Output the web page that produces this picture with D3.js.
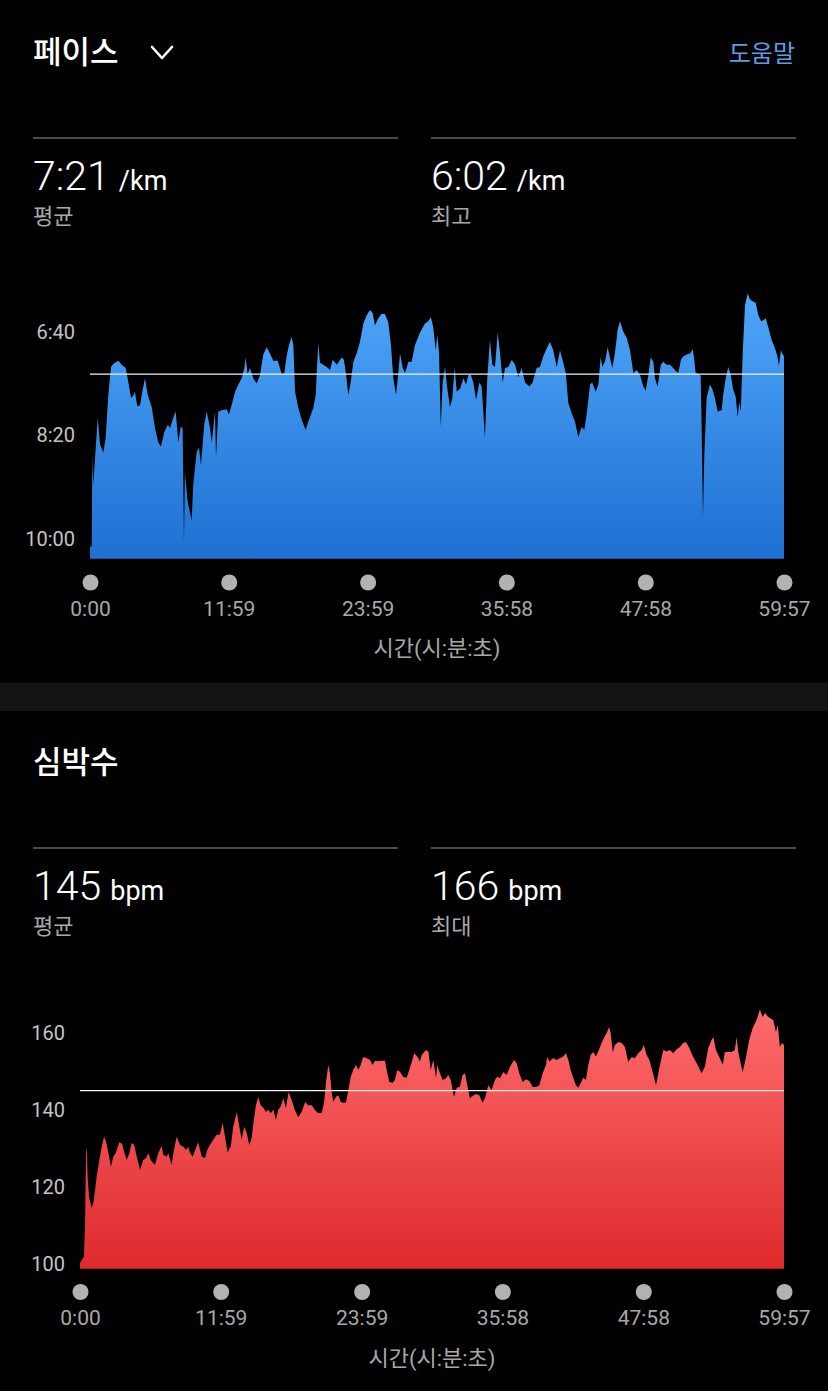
<!DOCTYPE html>
<html>
<head>
<meta charset="utf-8">
<script src="https://cdn.jsdelivr.net/npm/d3@7"></script>
<style>
  html, body { margin: 0; padding: 0; background: #000; }
  svg { display: block; font-family: Roboto, "Noto Sans CJK KR", sans-serif; }
</style>
</head>
<body>
<svg id="chart" width="828" height="1391"></svg>
<script>
// 시간 축 (초)
var timeTicks = [0, 719, 1439, 2158, 2878, 3597];
var timeLabels = ["0:00", "11:59", "23:59", "35:58", "47:58", "59:57"];

// 페이스 (초/km)
var paceTime = [0,9,12,17,40,52,69,81,95,109,121,147,164,185,195,213,224,233,245,259,
  271,285,299,320,337,354,368,385,403,415,432,444,458,470,480,487,492,506,527,535,
  553,565,575,592,605,622,631,648,653,665,683,709,720,734,752,769,786,800,807,817,
  829,846,864,881,898,916,933,950,973,994,1007,1019,1031,1045,1054,1063,1080,1097,1118,1131,
  1157,1170,1183,1192,1209,1227,1244,1258,1279,1305,1316,1327,1339,1351,1365,1382,1399,1417,1434,1451,
  1465,1477,1494,1512,1529,1546,1560,1572,1586,1598,1607,1621,1633,1650,1667,1684,1710,1736,1753,1767,
  1779,1792,1800,1809,1818,1828,1840,1852,1866,1878,1890,1901,1918,1935,1949,1961,1973,1987,2001,2018,
  2030,2047,2059,2073,2085,2099,2113,2125,2139,2151,2168,2186,2203,2220,2237,2255,2277,2294,2315,2332,
  2349,2367,2384,2401,2419,2436,2453,2466,2479,2497,2514,2531,2548,2562,2574,2592,2603,2621,2635,2647,
  2655,2669,2683,2695,2707,2721,2735,2747,2764,2782,2799,2816,2834,2851,2868,2880,2894,2906,2920,2928,
  2942,2959,2971,2989,3006,3023,3036,3049,3063,3075,3093,3110,3124,3132,3139,3153,3165,3170,3177,3184,
  3196,3213,3225,3239,3253,3274,3282,3295,3308,3321,3334,3347,3357,3365,3373,3383,3395,3409,3421,3438,
  3450,3464,3478,3490,3502,3516,3533,3550,3562,3571,3581,3593,3597];
var paceSec = [608,607,519,548,483,509,517,503,461,434,431,428,432,435,445,464,462,458,472,471,
  458,445,461,473,493,507,511,497,490,493,483,477,507,492,493,603,536,564,582,548,
  516,512,529,490,477,493,507,477,522,477,476,475,480,471,458,451,445,435,425,441,
  435,445,450,442,422,415,421,428,428,441,440,424,413,405,413,458,474,485,495,487,
  474,461,411,430,432,434,437,427,432,425,427,441,461,449,429,421,410,392,384,379,
  382,394,387,383,383,391,413,445,461,440,421,435,440,429,429,413,401,392,390,386,
  396,418,403,420,492,449,434,455,473,464,435,458,455,445,451,442,441,449,466,449,
  453,502,445,408,432,434,401,420,449,435,434,427,432,444,435,449,453,449,435,434,
  424,416,410,418,434,418,430,440,469,479,487,502,492,495,480,451,449,458,451,424,
  434,429,415,425,435,420,398,390,400,406,418,440,437,442,453,457,442,425,429,445,
  453,432,429,432,432,435,438,440,427,424,422,421,417,427,440,441,442,490,580,519,
  464,451,455,464,477,476,461,445,434,442,456,463,483,468,477,420,374,363,369,371,
  372,384,390,389,387,396,408,416,423,433,418,423,423];
var paceTicks = [400, 500, 600];
var paceAvg = 441;

// 심박수 (bpm)
var hrTime = [0,14,20,26,31,34,39,46,60,68,77,85,99,111,123,133,145,158,170,184,
  201,216,225,239,252,264,277,290,307,323,337,349,361,383,400,417,426,443,451,468,
  480,494,511,528,542,553,562,576,588,604,622,639,650,664,681,698,715,729,741,754,
  770,783,801,814,826,839,852,865,877,886,899,911,923,937,950,962,974,988,1001,1013,
  1025,1039,1052,1066,1082,1098,1115,1133,1150,1166,1184,1201,1218,1235,1247,1257,1269,1277,1286,1294,
  1308,1320,1332,1345,1359,1371,1383,1396,1410,1422,1434,1447,1465,1482,1495,1507,1524,1541,1558,1567,
  1580,1598,1609,1621,1635,1652,1669,1682,1695,1708,1723,1737,1746,1768,1780,1792,1805,1819,1825,1839,
  1853,1870,1882,1894,1911,1925,1941,1955,1967,1979,1992,2006,2023,2040,2057,2071,2086,2103,2120,2132,
  2146,2163,2180,2197,2217,2231,2244,2262,2279,2296,2313,2330,2347,2364,2381,2387,2398,2418,2435,2452,
  2469,2483,2495,2507,2520,2534,2546,2558,2571,2585,2597,2609,2622,2636,2648,2665,2677,2691,2704,2711,
  2722,2733,2750,2768,2784,2801,2819,2835,2852,2870,2881,2895,2909,2926,2943,2960,2980,2997,3014,3031,
  3049,3065,3082,3096,3113,3133,3156,3176,3193,3210,3227,3236,3249,3266,3284,3295,3312,3330,3346,3355,
  3363,3375,3386,3403,3419,3437,3457,3474,3488,3500,3517,3529,3542,3556,3565,3576,3587,3597];
var hrBpm = [100.2,101.5,101.7,110.6,129.6,130,122.6,117.4,114.5,115.8,119.2,122.6,127,130.4,133,131.7,128.8,125.2,127.8,129,
  131.6,131.1,129.1,127,128.7,131.4,130.9,127.8,124.4,127,127.4,128.8,127,125.7,128.8,130.6,128.3,127.8,128.7,125.7,
  129.6,133,130.9,130.4,129.6,130.4,128.8,127.8,129.6,131.6,127.8,127.5,129.6,130.9,132.2,133.5,133.5,136.6,133,129,
  130.4,135.6,139.4,135.6,132.2,135.6,133.9,130.9,132.6,136.6,141.2,143.3,141.2,140.5,139.4,140,139.1,140,137.4,140,
  140.8,143,140.4,144.6,142.5,139.9,138.1,139.5,142,141.2,141.2,139.9,139.1,139.2,141.8,147.2,151.6,149.5,144.4,142,
  143.4,143.8,142,141.8,141.8,145.1,148.5,150.3,151.6,150.3,151.6,153.7,153.4,152.9,151.6,152.7,152.6,152.7,152.7,150.3,
  147.2,147,147.7,150.3,149.9,148.5,148.3,150.3,152.4,154.7,153.8,152.5,154.2,155.5,155.1,150.3,152.9,148.3,151.6,149.5,
  147.7,148.2,149,147.7,143.3,145.7,146,149,149.5,146.4,143,143.6,144.1,143.8,141.8,143.3,146.4,145.1,147.7,148.6,
  148.2,149.8,149,151.1,152.9,152.1,149.5,147.2,147.9,147.5,145.9,145.9,146.4,149.5,151.6,153.7,152.5,153.4,152.9,153.4,
  153.8,154.7,152.9,150.3,148.3,146.4,145.7,146.9,148.3,147.7,151.6,154.2,155,153.8,155.1,157.3,158.6,159.9,161.5,159.9,
  155,156.8,157.6,157.3,156.3,152.4,153.7,153.4,154.7,155.5,156.8,154.2,152.9,149.8,146.4,150.8,155.5,155.1,155.5,154.7,
  155.7,156.3,157.3,157.6,156,153.7,151.6,149.5,151.2,156,158.1,158.9,155.5,153.7,151.6,155,155,155,155.5,158.9,
  155.1,152.1,149.8,153.7,158.1,161.2,163.3,166,164.1,165.1,164.1,163.7,163.3,160.2,162,156.3,157.3,156.8];
var hrTicks = [100, 120, 140, 160];
var hrAvg = 145;

// 요약 수치
var paceSummary = [
  { value: "7:21", unit: "/km", label: "평균" },
  { value: "6:02", unit: "/km", label: "최고" }
];
var hrSummary = [
  { value: "145", unit: "bpm", label: "평균" },
  { value: "166", unit: "bpm", label: "최대" }
];

if (paceTime.length !== paceSec.length) console.error("pace length", paceTime.length, paceSec.length);
if (hrTime.length !== hrBpm.length) console.error("hr length", hrTime.length, hrBpm.length);

var width = 828, height = 1391;
var svg = d3.select('#chart');

svg.append('rect').attr('width', width).attr('height', height).attr('fill', '#000');
// 섹션 구분 띠
svg.append('rect').attr('x', 0).attr('y', 683).attr('width', width).attr('height', 28).attr('fill', '#131313');

var defs = svg.append('defs');
function gradient(id, top, bottom) {
    var g = defs.append('linearGradient').attr('id', id)
        .attr('x1', 0).attr('y1', 0).attr('x2', 0).attr('y2', 1);
    g.append('stop').attr('offset', '0%').attr('stop-color', top);
    g.append('stop').attr('offset', '100%').attr('stop-color', bottom);
}
gradient('paceFill', '#4fa6f9', '#1e70d2');
gradient('hrFill', '#ff6b6b', '#de2a2d');

function secToPace(s) {
    var m = Math.floor(s / 60), r = s % 60;
    return m + ':' + (r < 10 ? '0' : '') + r;
}

// 제목 + 요약
function header(title, titleY, withChevron) {
    svg.append('text').attr('x', 33).attr('y', titleY)
        .attr('font-size', 31).attr('font-weight', 500).attr('fill', '#fff').text(title);
    if (withChevron) {
        svg.append('polyline').attr('points', '152,47 162,58 172,47')
            .attr('fill', 'none').attr('stroke', '#fff').attr('stroke-width', 2.6)
            .attr('stroke-linecap', 'round').attr('stroke-linejoin', 'round');
        svg.append('text').attr('x', 795).attr('y', 62).attr('text-anchor', 'end')
            .attr('font-size', 24).attr('fill', '#5b9fe3').text('도움말');
    }
}

function summary(items, lineY) {
    var cols = [33, 431];
    items.forEach(function (d, i) {
        var x0 = cols[i];
        svg.append('line').attr('x1', x0).attr('x2', x0 + 365)
            .attr('y1', lineY).attr('y2', lineY)
            .attr('stroke', '#4a4a4a').attr('stroke-width', 2);
        var t = svg.append('text').attr('x', x0).attr('y', lineY + 52).attr('fill', '#fff');
        t.append('tspan').attr('font-size', 41).attr('font-weight', 300).text(d.value);
        t.append('tspan').attr('font-size', 27).attr('dx', 9).text(d.unit);
        svg.append('text').attr('x', x0).attr('y', lineY + 86)
            .attr('font-size', 22).attr('fill', '#a8a8a8').text(d.label);
    });
}

function drawPanel(o) {
    var x = d3.scaleLinear().domain([0, 3597]).range(o.xRange);
    var y = d3.scaleLinear().domain(o.yDomain).range(o.yRange);
    var idx = d3.range(o.times.length);

    var area = d3.area()
        .x(function (i) { return x(o.times[i]); })
        .y0(o.baseY)
        .y1(function (i) { return y(o.values[i]); })
        .curve(d3.curveLinear);

    svg.append('path').datum(idx)
        .attr('d', area)
        .attr('fill', 'url(#' + o.fill + ')');

    // 평균선
    svg.append('line')
        .attr('x1', o.xRange[0]).attr('x2', o.xRange[1])
        .attr('y1', y(o.avg)).attr('y2', y(o.avg))
        .attr('stroke', '#f2f2f2').attr('stroke-width', 1.3);

    var yAxis = svg.append('g')
        .attr('transform', 'translate(' + o.xRange[0] + ',0)')
        .call(d3.axisLeft(y).tickValues(o.yTicks).tickFormat(o.yFormat).tickSize(0).tickPadding(15));
    yAxis.select('.domain').remove();
    yAxis.selectAll('text').attr('fill', '#c4c4c4').attr('font-size', 20)
        .attr('font-family', 'Roboto, sans-serif');

    var xAxis = svg.append('g')
        .attr('transform', 'translate(0,' + o.dotY + ')')
        .call(d3.axisBottom(x).tickValues(timeTicks)
            .tickFormat(function (d, i) { return timeLabels[i]; }).tickSize(0));
    xAxis.select('.domain').remove();
    xAxis.selectAll('.tick').insert('circle', 'text').attr('r', 8).attr('fill', '#b2b2b2');
    xAxis.selectAll('text').attr('y', 26).attr('dy', '0.35em')
        .attr('fill', '#a8a8a8').attr('font-size', 21).attr('font-family', 'Roboto, sans-serif');

    svg.append('text')
        .attr('x', (o.xRange[0] + o.xRange[1]) / 2).attr('y', o.dotY + 66)
        .attr('dy', '0.35em').attr('text-anchor', 'middle')
        .attr('font-size', 22).attr('fill', '#a8a8a8').text('시간(시:분:초)');
}

header('페이스', 63, true);
summary(paceSummary, 138);
drawPanel({
    times: paceTime, values: paceSec,
    xRange: [90, 784], yDomain: [400, 600], yRange: [331.7, 538.7], baseY: 558.7,
    avg: paceAvg, yTicks: paceTicks, yFormat: secToPace,
    fill: 'paceFill', dotY: 582.5
});

header('심박수', 773, false);
summary(hrSummary, 848);
drawPanel({
    times: hrTime, values: hrBpm,
    xRange: [80, 784], yDomain: [100, 160], yRange: [1264, 1032.7], baseY: 1268.7,
    avg: hrAvg, yTicks: hrTicks, yFormat: d3.format('d'),
    fill: 'hrFill', dotY: 1292
});
</script>
</body>
</html>
